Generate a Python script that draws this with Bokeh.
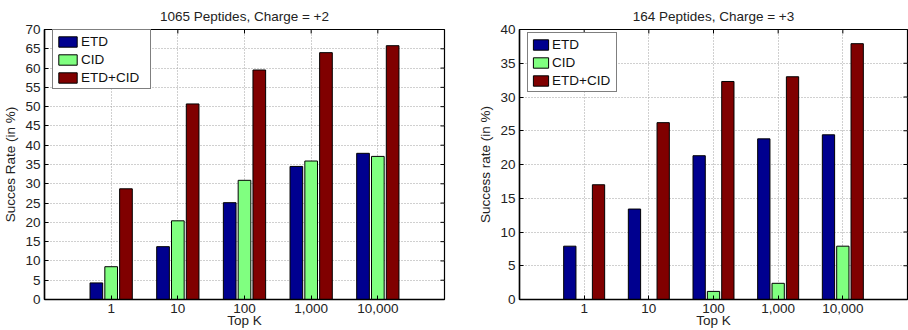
import math
from bokeh.plotting import figure
from bokeh.layouts import row
from bokeh.models import (FixedTicker, Legend, LegendItem, Range1d, ColumnDataSource)
from bokeh.embed import file_html
from bokeh.resources import INLINE

top_k = ["1", "10", "100", "1,000", "10,000"]
series = ["ETD", "CID", "ETD+CID"]
colors = ["#00008F", "#80FF80", "#800000"]
x_label = "Top K"

left_title = "1065 Peptides, Charge = +2"
left_ylabel = "Succes Rate (in %)"
left_etd = [4.3, 13.7, 25.1, 34.5, 37.9]
left_cid = [8.5, 20.4, 30.9, 35.9, 37.1]
left_both = [28.7, 50.7, 59.5, 64.0, 65.8]
left_yticks = list(range(0, 71, 5))

right_title = "164 Peptides, Charge = +3"
right_ylabel = "Success rate (in %)"
right_etd = [7.9, 13.4, 21.3, 23.8, 24.4]
right_cid = [0.0, 0.0, 1.2, 2.4, 7.9]
right_both = [17.0, 26.2, 32.3, 33.0, 37.9]
right_yticks = list(range(0, 41, 5))

FONT = "Liberation Sans"
TXT = "#222222"
FS = "13.5px"


def style_axis(ax):
    ax.major_tick_in = 4
    ax.major_tick_out = 0
    ax.minor_tick_line_color = None
    ax.axis_line_color = "black"
    ax.axis_line_width = 1.5
    ax.major_tick_line_color = "black"
    ax.major_label_text_font = FONT
    ax.major_label_text_font_size = FS
    ax.major_label_text_color = TXT
    ax.axis_label_text_font = FONT
    ax.axis_label_text_font_size = FS
    ax.axis_label_text_font_style = "normal"
    ax.axis_label_text_color = TXT


def make(title, ylabel, vals, yticks, width, bl, br, leg_xy, glyph_w, label_w):
    ymax = yticks[-1]
    n = len(top_k)
    p = figure(width=width, height=330, x_range=Range1d(0, n + 1),
               y_range=Range1d(0, ymax), output_backend="svg", toolbar_location=None,
               min_border_left=bl, min_border_right=br, min_border_top=29,
               min_border_bottom=31,
               background_fill_color="white", border_fill_color="white")
    p.title.text = title
    p.title.align = "center"
    p.title.text_font = FONT
    p.title.text_font_size = FS
    p.title.text_font_style = "normal"
    p.title.text_color = TXT
    p.title.standoff = 12
    p.outline_line_color = "black"
    p.outline_line_width = 1.2

    xs = list(range(1, n + 1))
    offsets = [-0.222, 0.0, 0.222]
    renderers = []
    for s, v, c, off in zip(series, vals, colors, offsets):
        src = ColumnDataSource(dict(x=[x + off for x in xs], top=v))
        r = p.vbar(x="x", top="top", width=0.19, bottom=0, source=src,
                   fill_color=c, line_color="black", line_width=1)
        renderers.append(r)

    p.xaxis.ticker = FixedTicker(ticks=xs)
    p.xaxis.major_label_overrides = {x: t for x, t in zip(xs, top_k)}
    p.yaxis.ticker = FixedTicker(ticks=yticks)
    style_axis(p.xaxis[0])
    style_axis(p.yaxis[0])
    p.xaxis.axis_label = x_label
    p.xaxis.major_label_standoff = 4
    p.xaxis.axis_label_standoff = -3
    p.yaxis.major_label_standoff = 4
    p.yaxis.axis_label = ylabel
    p.yaxis.axis_label_standoff = 4

    # inward ticks on the right and top edges of the box (half clipped by the frame)
    p.scatter(x=[n + 1] * len(yticks), y=yticks, marker="dash", size=8,
              line_color="black", line_width=1)
    p.scatter(x=xs, y=[ymax] * n, marker="dash", size=8, angle=math.pi / 2,
              line_color="black", line_width=1)

    p.grid.grid_line_color = "#a0a0a0"
    p.grid.grid_line_dash = "1 2"
    p.grid.grid_line_width = 1

    legend = Legend(items=[LegendItem(label=s, renderers=[r]) for s, r in zip(series, renderers)],
                    location=leg_xy)
    legend.label_text_font = FONT
    legend.label_text_font_size = "13.5px"
    legend.label_text_color = "#111111"
    legend.glyph_width = glyph_w
    legend.glyph_height = 13
    legend.label_height = 16
    legend.label_width = label_w
    legend.label_standoff = 2
    legend.spacing = 2
    legend.padding = 3
    legend.margin = 0
    legend.border_line_color = "black"
    legend.border_line_width = 1.5
    legend.background_fill_alpha = 1
    p.add_layout(legend, "center")
    return p


p1 = make(left_title, left_ylabel, [left_etd, left_cid, left_both], left_yticks,
          475, 40, 31, (8, 210), 23, 66)
p2 = make(right_title, right_ylabel, [right_etd, right_cid, right_both], right_yticks,
          433, 40, 1, (8, 207), 19, 61)

layout = row(p1, p2)
open("out.html", "w").write(file_html(layout, INLINE))
